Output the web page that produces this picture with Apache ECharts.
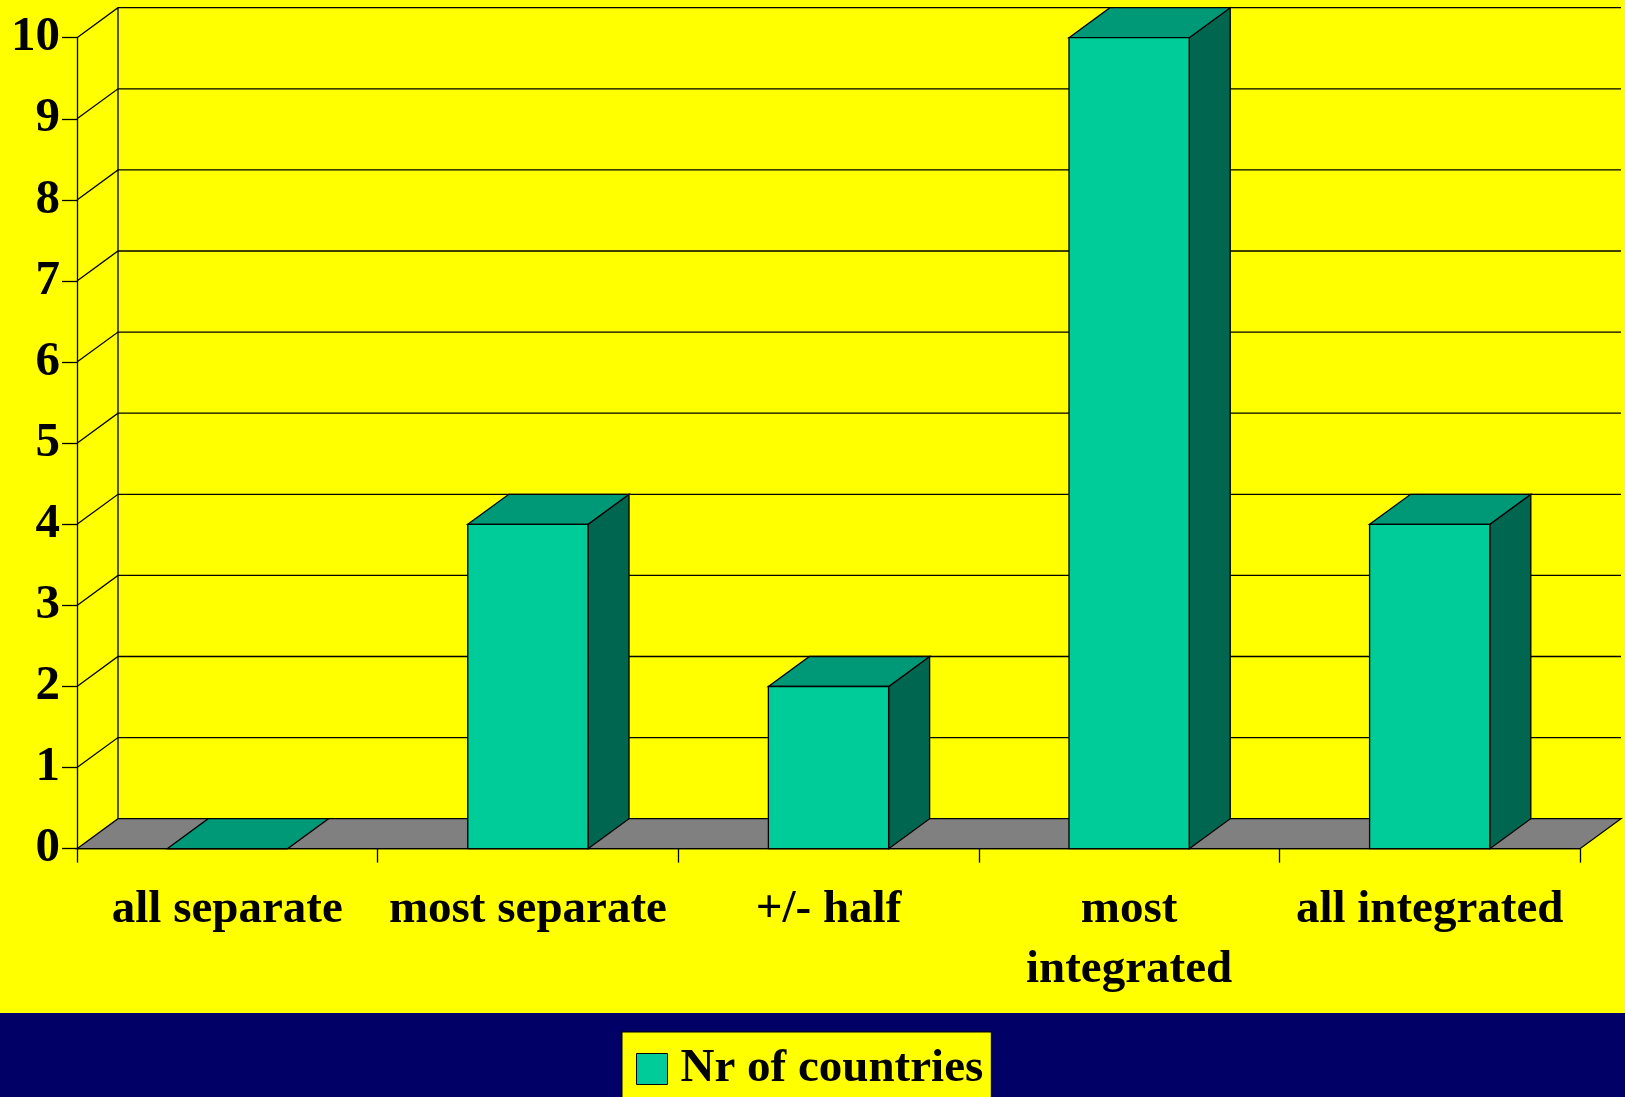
<!DOCTYPE html>
<html>
<head>
<meta charset="utf-8">
<title>Nr of countries</title>
<script src="https://cdn.jsdelivr.net/npm/echarts@6/dist/echarts.min.js"></script>
<style>
  html, body { margin: 0; padding: 0; background: #FFFF00; }
  #chart { width: 1625px; height: 1097px; }
</style>
</head>
<body>
<div id="chart"></div>
<script>
// Categories along the floor of the 3D box
const categories = ['all separate', 'most separate', '+/- half', 'most\nintegrated', 'all integrated'];
// Number of countries per category
const countries = [0, 4, 2, 10, 4];
// Value-axis tick values (gridlines on the back wall)
const gridValues = [0, 1, 2, 3, 4, 5, 6, 7, 8, 9, 10];
const seriesName = 'Nr of countries';

// Look of the pseudo-3D box
const DEPTH_X = 41;
const DEPTH_Y = -30;
const FRONT = '#00CC99';
const TOP = '#009977';
const SIDE = '#006650';
const FLOOR = '#808080';
const LINE_W = 1.3;
const FONT = '"Liberation Serif", "Times New Roman", serif';

const chart = echarts.init(document.getElementById('chart'));

function renderWall(params, api) {
  const cs = params.coordSys;
  const x0 = cs.x, x1 = cs.x + cs.width;
  const v = api.value(1);
  const y = api.coord([0, v])[1];
  const line = { stroke: '#000', lineWidth: LINE_W, fill: null };
  const children = [];
  if (v === 0) {
    // grey floor
    children.push({
      type: 'polygon',
      shape: { points: [[x0, y], [x0 + DEPTH_X, y + DEPTH_Y], [x1 + DEPTH_X, y + DEPTH_Y], [x1, y]] },
      style: { fill: FLOOR, stroke: '#000', lineWidth: LINE_W }
    });
    // left edge of the back wall
    children.push({
      type: 'line',
      shape: { x1: x0 + DEPTH_X, y1: y + DEPTH_Y, x2: x0 + DEPTH_X, y2: cs.y + DEPTH_Y },
      style: line
    });
  } else {
    children.push({
      type: 'polyline',
      shape: { points: [[x0, y], [x0 + DEPTH_X, y + DEPTH_Y], [x1 + DEPTH_X, y + DEPTH_Y]] },
      style: line
    });
  }
  return { type: 'group', children: children };
}

function renderBar(params, api) {
  const idx = api.value(0);
  const v = api.value(1);
  const base = api.coord([idx, 0]);
  const top = api.coord([idx, v]);
  const w = api.size([1, 0])[0] * 0.4;
  const xl = base[0] - w / 2, xr = base[0] + w / 2;
  const yb = base[1], yt = top[1];
  const edge = { stroke: '#000', lineWidth: LINE_W };
  return {
    type: 'group',
    children: [
      {
        type: 'polygon',
        shape: { points: [[xr, yt], [xr + DEPTH_X, yt + DEPTH_Y], [xr + DEPTH_X, yb + DEPTH_Y], [xr, yb]] },
        style: Object.assign({ fill: SIDE }, edge)
      },
      {
        type: 'polygon',
        shape: { points: [[xl, yt], [xl + DEPTH_X, yt + DEPTH_Y], [xr + DEPTH_X, yt + DEPTH_Y], [xr, yt]] },
        style: Object.assign({ fill: TOP }, edge)
      },
      {
        type: 'rect',
        shape: { x: xl, y: yt, width: w, height: yb - yt },
        style: Object.assign({ fill: FRONT }, edge)
      }
    ]
  };
}

const option = {
  animation: false,
  backgroundColor: '#FFFF00',
  graphic: [{
    type: 'rect',
    left: 0,
    top: 1013,
    z: 0,
    shape: { width: 1625, height: 84 },
    style: { fill: '#000066' }
  }],
  grid: {
    left: 77,
    right: 45,
    top: 37.7,
    bottom: 248.3,
    containLabel: false,
    outerBoundsMode: 'none'
  },
  legend: {
    data: [seriesName],
    left: 622,
    top: 1032,
    z: 10,
    backgroundColor: '#FFFF00',
    borderColor: '#000',
    borderWidth: 1,
    padding: [8, 8, 40, 14],
    icon: 'rect',
    itemWidth: 31,
    itemHeight: 31,
    itemGap: 10,
    itemStyle: { color: FRONT, borderColor: '#000', borderWidth: 1 },
    textStyle: {
      color: '#000',
      fontFamily: FONT,
      fontWeight: 'bold',
      fontSize: 47,
      lineHeight: 46,
      padding: [12, 0, 0, 8]
    }
  },
  xAxis: {
    type: 'category',
    data: categories,
    boundaryGap: true,
    axisLine: { show: true, lineStyle: { color: '#000', width: LINE_W } },
    axisTick: { show: true, length: 14, lineStyle: { color: '#000', width: LINE_W } },
    axisLabel: {
      interval: 0,
      margin: 31,
      color: '#000',
      fontFamily: FONT,
      fontWeight: 'bold',
      fontSize: 47,
      lineHeight: 60
    },
    splitLine: { show: false }
  },
  yAxis: {
    type: 'value',
    min: 0,
    max: 10,
    interval: 1,
    axisLine: { show: true, lineStyle: { color: '#000', width: LINE_W } },
    axisTick: { show: true, length: 15, lineStyle: { color: '#000', width: LINE_W } },
    axisLabel: {
      margin: 17,
      color: '#000',
      fontFamily: FONT,
      fontWeight: 'bold',
      fontSize: 49
    },
    splitLine: { show: false }
  },
  series: [
    {
      name: 'walls',
      type: 'custom',
      clip: false,
      silent: true,
      z: 1,
      renderItem: renderWall,
      encode: { x: 0, y: 1 },
      data: gridValues.map(function (v) { return [0, v]; })
    },
    {
      name: seriesName,
      type: 'custom',
      clip: false,
      z: 2,
      itemStyle: { color: FRONT, borderColor: '#000', borderWidth: 1 },
      renderItem: renderBar,
      encode: { x: 0, y: 1 },
      data: countries.map(function (v, i) { return [i, v]; })
    }
  ]
};

chart.setOption(option);
</script>
</body>
</html>
